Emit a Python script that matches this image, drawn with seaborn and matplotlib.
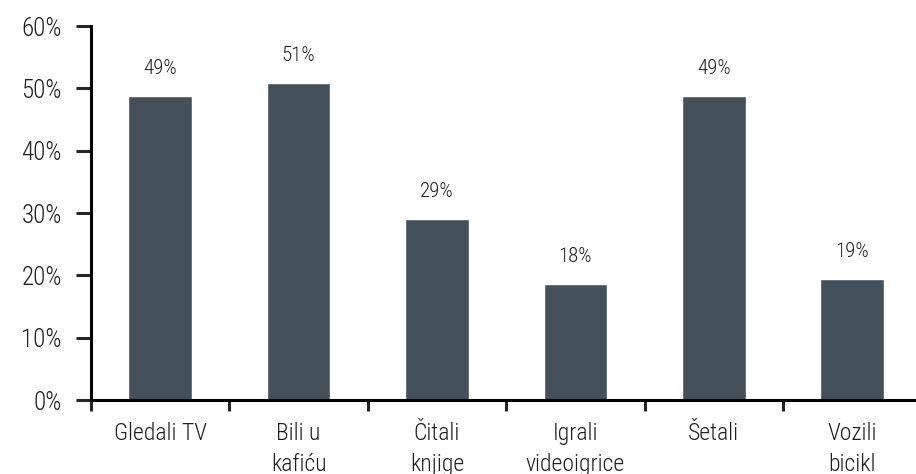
import matplotlib
matplotlib.use('Agg')
import matplotlib.pyplot as plt
import seaborn as sns

# data ------------------------------------------------------------------
categories = ['Gledali TV', 'Bili u\nkafiću', 'Čitali\nknjige', 'Igrali\nvideoigrice', 'Šetali', 'Vozili\nbicikl']
values = [48.8, 50.8, 29.0, 18.6, 48.8, 19.4]
labels = ['49%', '51%', '29%', '18%', '49%', '19%']
yticks = [0, 10, 20, 30, 40, 50, 60]
ytick_labels = ['0%', '10%', '20%', '30%', '40%', '50%', '60%']

sns.set_style('white')
plt.rcParams['font.family'] = ['Roboto Condensed', 'Roboto', 'DejaVu Sans']
plt.rcParams['font.weight'] = 'light'

fig = plt.figure(figsize=(9.16, 4.74), dpi=100)
ax = fig.add_axes([0.0993, 0.156, 0.9066, 0.789])

sns.barplot(x=categories, y=values, color='#45515a', saturation=1, width=0.46, ax=ax)

# labels above bars
for i, v in enumerate(values):
    ax.annotate(labels[i], (i, v), xytext=(0, 13), textcoords='offset points',
                ha='center', va='bottom', fontsize=15, color='#1e1e1e', fontweight='light')

ax.set_ylim(0, 60)
ax.set_xlim(-0.5, 5.5)
ax.set_yticks(yticks)
ax.set_yticklabels(ytick_labels, fontsize=18, color='#1e1e1e', fontweight='light')
ax.tick_params(axis='y', direction='out', length=11, width=2.2, pad=10, left=True)

# category ticks at boundaries, labels in the middle
ax.set_xticks(range(len(categories)))
ax.set_xticklabels(categories, fontsize=17, color='#1e1e1e', linespacing=1.45, fontweight='light')
ax.tick_params(axis='x', which='major', length=0, pad=16)
ax.set_xticks([i - 0.5 for i in range(len(categories) + 1)], minor=True)
ax.tick_params(axis='x', which='minor', direction='out', length=8, width=2.2, bottom=True)

for s in ['top', 'right']:
    ax.spines[s].set_visible(False)
for s in ['left', 'bottom']:
    ax.spines[s].set_linewidth(2.2)
    ax.spines[s].set_color('black')
ax.set_xlabel('')
ax.set_ylabel('')

fig.savefig('out.png', dpi=100)
